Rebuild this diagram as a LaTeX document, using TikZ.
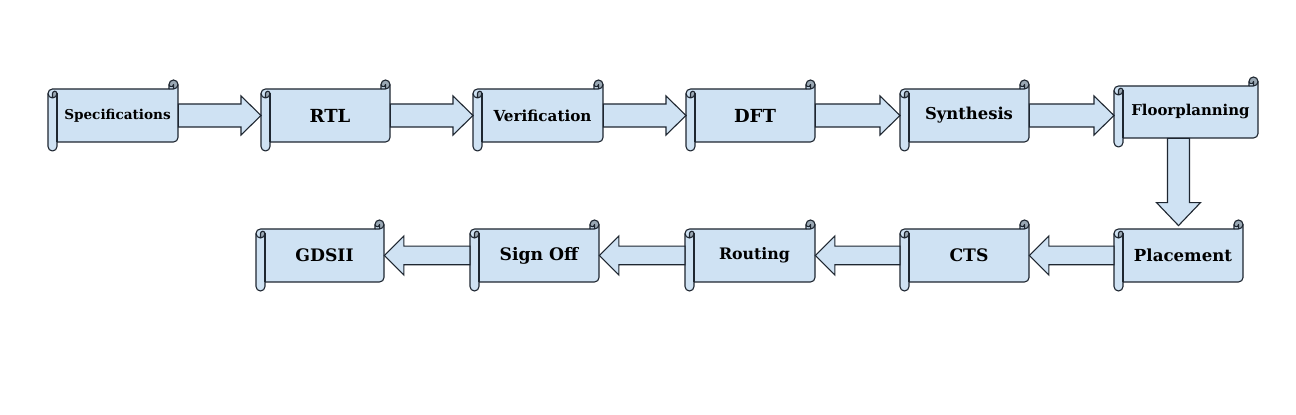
\documentclass[tikz,border=0pt]{standalone}
\usepackage{fontspec}
\setmainfont{DejaVu Serif}
\usetikzlibrary{calc}
\definecolor{scrollblue}{HTML}{CFE2F3}
\definecolor{scrolldark}{HTML}{9AA8B4}
\definecolor{edge}{HTML}{1E2630}
\tikzset{
  scrollline/.style={draw=edge, line width=0.55pt, line join=round},
  blockarrow/.style={draw=edge, fill=scrollblue, line width=0.55pt, line join=miter},
  lbl/.style={font=\bfseries, text=black, inner sep=0pt, draw=none}
}
% name, x0, y0, x1, y1, font size (pt), text
\newcommand{\scrollshape}[7]{%
\begin{scope}[shift={(#2,#3)}]
\pgfmathsetmacro{\W}{#4-#2}
\pgfmathsetmacro{\H}{#5-#3}
\pgfmathsetmacro{\xt}{\W-9}
\pgfmathsetmacro{\xf}{\W-4.5}
\pgfmathsetmacro{\yv}{\H-13.5}
\pgfmathsetmacro{\yx}{\H-9}
\pgfmathsetmacro{\ys}{\H-4.5}
\fill[scrollblue] (\W,4.5) arc[start angle=0, delta angle=90, radius=4.5] -- (\xf,4.5)
  arc[start angle=0, delta angle=180, radius=2.25] -- (\xt,9) -- (4.5,9)
  arc[start angle=270, delta angle=-90, radius=4.5] -- (0,\ys)
  arc[start angle=180, delta angle=-180, radius=4.5] -- (9,\yx) -- (\xf,\yx)
  arc[start angle=90, delta angle=-90, radius=4.5] -- cycle;
\fill[scrolldark] (4.5,18) arc[start angle=90, delta angle=-90, radius=4.5]
  arc[start angle=0, delta angle=-180, radius=2.25] -- cycle;
\fill[scrolldark] (\xf,9) arc[start angle=90, delta angle=-270, radius=4.5]
  arc[start angle=180, delta angle=-180, radius=2.25] -- cycle;
\draw[scrollline] (0,13.5) arc[start angle=180, delta angle=90, radius=4.5] -- (\xt,9) -- (\xt,4.5)
  arc[start angle=180, delta angle=180, radius=4.5] -- (\W,\yv)
  arc[start angle=0, delta angle=90, radius=4.5] -- (9,\yx) -- (9,\ys)
  arc[start angle=0, delta angle=180, radius=4.5] -- cycle;
\draw[scrollline] (\xt,9) -- (\xf,9) arc[start angle=90, delta angle=-90, radius=4.5];
\draw[scrollline] (\xf,9) -- (\xf,4.5) arc[start angle=0, delta angle=180, radius=2.25];
\draw[scrollline] (4.5,18) -- (4.5,13.5) arc[start angle=180, delta angle=180, radius=2.25]
  arc[start angle=0, delta angle=180, radius=4.5];
\draw[scrollline] (9,13.5) -- (9,\yx);
\node[lbl, minimum width={(\W-9)*0.5pt}, minimum height={(\H-18)*0.5pt}, font=\fontsize{#6}{#6}\selectfont\bfseries]
  (#1) at ({(\W+9)/2},{\H/2}) {#7};
\coordinate (#1-roll) at (0,{\H/2});
\coordinate (#1-mid) at ({\W/2},{\H/2});
\end{scope}}
% right block arrow: from body east of #1 to roll of #2
\newcommand{\rarrow}[2]{%
\draw[blockarrow] let \p1=(#1.east), \p2=(#2-roll) in
 (\x1,\y1+5.75pt) -- (\x2-10pt,\y1+5.75pt) -- (\x2-10pt,\y1+9.75pt) -- (\x2,\y1)
 -- (\x2-10pt,\y1-9.75pt) -- (\x2-10pt,\y1-5.75pt) -- (\x1,\y1-5.75pt) -- cycle;}
% left block arrow: from roll of #1 to body east of #2
\newcommand{\larrow}[2]{%
\draw[blockarrow] let \p1=(#1-roll), \p2=(#2.east) in
 (\x1,\y1+4.65pt) -- (\x2+9.75pt,\y1+4.65pt) -- (\x2+9.75pt,\y1+9.75pt) -- (\x2,\y1)
 -- (\x2+9.75pt,\y1-9.75pt) -- (\x2+9.75pt,\y1-4.65pt) -- (\x1,\y1-4.65pt) -- cycle;}
\begin{document}
\begin{tikzpicture}[x=0.5pt, y=-0.5pt]
\useasboundingbox[fill=white] (0,0) rectangle (1296,415);
\scrollshape{spec}{48}{80}{178}{151}{6.8}{Specifications}
\scrollshape{rtl}{261}{80}{390}{151}{9}{RTL}
\scrollshape{verif}{473}{80}{603}{151}{7.6}{Verification}
\scrollshape{dft}{686}{80}{815}{151}{9}{DFT}
\scrollshape{synth}{900}{80}{1029}{151}{8.2}{Synthesis}
\scrollshape{floor}{1114}{77}{1258}{147}{7.45}{Floorplanning}
\scrollshape{gds}{256}{220}{384}{291}{8.6}{GDSII}
\scrollshape{signoff}{470}{220}{599}{291}{8.6}{Sign Off}
\scrollshape{route}{685}{220}{815}{291}{7.9}{Routing}
\scrollshape{cts}{900}{220}{1029}{291}{8.6}{CTS}
\scrollshape{place}{1114}{220}{1243}{291}{8.3}{Placement}
\rarrow{spec}{rtl}
\rarrow{rtl}{verif}
\rarrow{verif}{dft}
\rarrow{dft}{synth}
\rarrow{synth}{floor}
\larrow{place}{cts}
\larrow{cts}{route}
\larrow{route}{signoff}
\larrow{signoff}{gds}
\draw[blockarrow] let \p1=(floor.south), \p2=(place-mid), \p3=(place.north) in
 (\x2-5.5pt,\y1) -- (\x2-5.5pt,\y3+13pt) -- (\x2-11pt,\y3+13pt) -- (\x2,\y3+1.5pt)
 -- (\x2+11pt,\y3+13pt) -- (\x2+5.5pt,\y3+13pt) -- (\x2+5.5pt,\y1) -- cycle;
\end{tikzpicture}
\end{document}
